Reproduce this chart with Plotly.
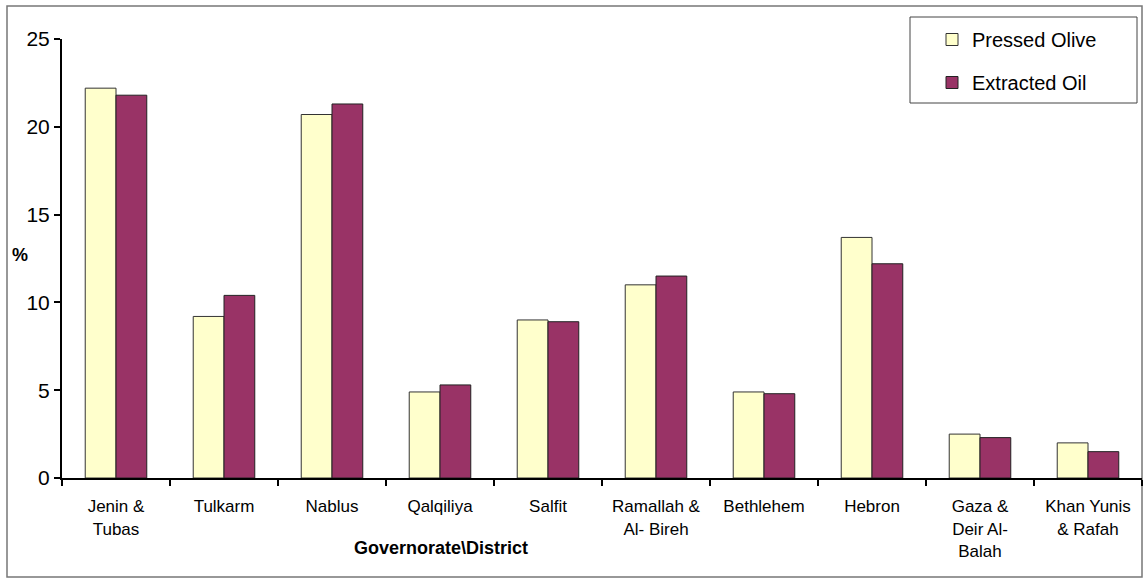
import plotly.graph_objects as go

categories = ["Jenin &<br>Tubas", "Tulkarm", "Nablus", "Qalqiliya", "Salfit",
              "Ramallah &<br>Al- Bireh", "Bethlehem", "Hebron",
              "Gaza &<br>Deir Al-<br>Balah", "Khan Yunis<br>& Rafah"]
pressed_olive = [22.2, 9.2, 20.7, 4.9, 9.0, 11.0, 4.9, 13.7, 2.5, 2.0]
extracted_oil = [21.8, 10.4, 21.3, 5.3, 8.9, 11.5, 4.8, 12.2, 2.3, 1.5]
y_ticks = [0, 5, 10, 15, 20, 25]

W, H = 1143, 578
L, R, T, B = 62, 1, 39, 100

fig = go.Figure()
fig.add_trace(go.Bar(name="Pressed Olive", x=categories, y=pressed_olive,
                     marker=dict(color="#FFFFCC", line=dict(color="#333333", width=1)),
                     legendgroup="a"))
fig.add_trace(go.Bar(name="Extracted Oil", x=categories, y=extracted_oil,
                     marker=dict(color="#993366", line=dict(color="#222222", width=1)),
                     legendgroup="b"))

pw = W - L - R
ph = H - T - B

font = dict(family="Liberation Sans, Arial, sans-serif", size=16, color="black")
fig.update_layout(
    width=W, height=H,
    margin=dict(l=L, r=R, t=T, b=B, autoexpand=False),
    paper_bgcolor="white", plot_bgcolor="white",
    font=font,
    barmode="group", bargap=0.43, bargroupgap=0,
    showlegend=True,
    legend=dict(x=(932 - L) / pw, y=(478 - 20) / ph,
                xanchor="left", yanchor="top",
                borderwidth=0, bgcolor="rgba(0,0,0,0)",
                font=dict(size=20), tracegroupgap=14, traceorder="grouped",
                itemwidth=30),
    xaxis=dict(showline=True, linecolor="black", linewidth=2,
               ticks="outside", tickson="boundaries", ticklen=6, tickwidth=2,
               tickcolor="black", tickangle=0, showgrid=False,
               ticklabelstandoff=12,
               tickfont=dict(size=17)),
    yaxis=dict(range=[0, 25], tickvals=y_ticks, showline=True, linecolor="black",
               linewidth=2, ticks="outside", ticklen=6, tickwidth=2,
               tickcolor="black", showgrid=False, zeroline=False,
               tickfont=dict(size=21)),
)

fig.add_annotation(text="<b>%</b>", xref="paper", yref="paper",
                   x=(20 - L) / pw, y=(478 - 255) / ph, showarrow=False,
                   xanchor="center", yanchor="middle",
                   font=dict(size=18))
fig.add_annotation(text="<b>Governorate\\District</b>", xref="paper", yref="paper",
                   x=(441 - L) / pw, y=(478 - 548) / ph, showarrow=False,
                   xanchor="center", yanchor="middle",
                   font=dict(size=18))
fig.add_shape(type="rect", xref="paper", yref="paper",
              x0=(7 - L) / pw, x1=(1142 - L) / pw,
              y0=(478 - 577) / ph, y1=(478 - 6) / ph,
              line=dict(color="#777777", width=1.5), layer="below")
fig.add_shape(type="rect", xref="paper", yref="paper",
              x0=(910 - L) / pw, x1=(1137 - L) / pw,
              y0=(478 - 103) / ph, y1=(478 - 17) / ph,
              line=dict(color="#444444", width=1), fillcolor="white", layer="below")

fig.write_html("out.html", config={"displayModeBar": False},
               post_script="document.body.style.margin='0px';")
